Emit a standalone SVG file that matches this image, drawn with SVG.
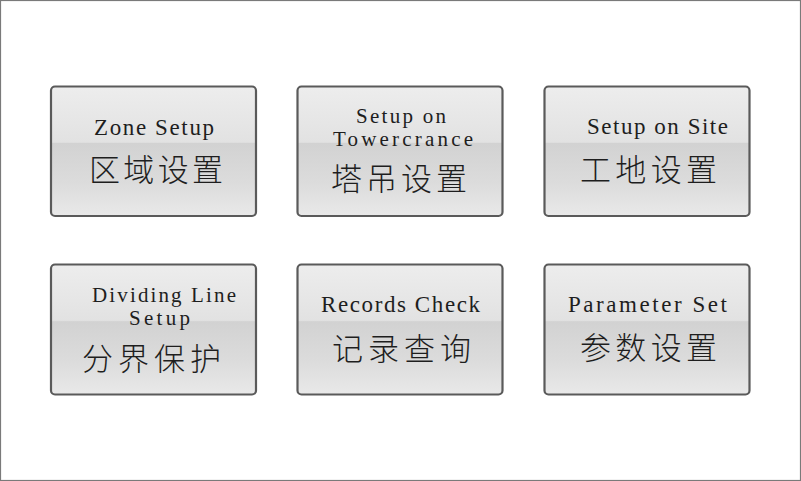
<svg xmlns="http://www.w3.org/2000/svg" width="801" height="481" viewBox="0 0 801 481">
<defs>
<linearGradient id="g" x1="0" y1="0" x2="0" y2="1">
<stop offset="0" stop-color="#ededed"/>
<stop offset="0.43" stop-color="#e2e2e2"/>
<stop offset="0.44" stop-color="#d2d2d2"/>
<stop offset="0.75" stop-color="#dcdcdc"/>
<stop offset="1" stop-color="#e9e9e9"/>
</linearGradient>
</defs>
<style>
.box{fill:url(#g);stroke:#5a5a5a;stroke-width:2.2}
.en{font-family:"Liberation Serif","DejaVu Serif",serif;font-size:23px;fill:#1e1e1e;text-anchor:start}
.en2{font-size:21px}
.zh{font-family:"Noto Sans CJK SC","Noto Sans CJK JP",sans-serif;font-size:31px;font-weight:300;fill:#1e1e1e}
</style>
<rect x="0.5" y="0.5" width="800" height="480" fill="#ffffff" stroke="#7a7a7a" stroke-width="1.2"/>
<g id="connectors"/>
<g id="zone-setup">
<rect class="box" x="51" y="86.5" width="205" height="129.5" rx="4"/>
<text class="en" x="94" y="135" textLength="120" lengthAdjust="spacing">Zone Setup</text>
<text class="zh" x="89" y="181" textLength="134" lengthAdjust="spacing">区域设置</text>
</g>
<g id="towercrane-setup">
<rect class="box" x="297.5" y="86.5" width="205" height="129.5" rx="4"/>
<text class="en en2" x="356" y="123" textLength="90" lengthAdjust="spacing">Setup on</text>
<text class="en en2" x="333" y="146" textLength="140" lengthAdjust="spacing">Towercrance</text>
<text class="zh" x="331" y="190" textLength="136" lengthAdjust="spacing">塔吊设置</text>
</g>
<g id="site-setup">
<rect class="box" x="544.5" y="86.5" width="205" height="129.5" rx="4"/>
<text class="en" x="587" y="134" textLength="141" lengthAdjust="spacing">Setup on Site</text>
<text class="zh" x="580" y="181" textLength="137" lengthAdjust="spacing">工地设置</text>
</g>
<g id="dividing-line-setup">
<rect class="box" x="51" y="264.5" width="205" height="130" rx="4"/>
<text class="en en2" x="92" y="302" textLength="144" lengthAdjust="spacing">Dividing Line</text>
<text class="en en2" x="129" y="325" textLength="61" lengthAdjust="spacing">Setup</text>
<text class="zh" x="82" y="370" textLength="139" lengthAdjust="spacing">分界保护</text>
</g>
<g id="records-check">
<rect class="box" x="297.5" y="264.5" width="205" height="130" rx="4"/>
<text class="en" x="321" y="312" textLength="159" lengthAdjust="spacing">Records Check</text>
<text class="zh" x="332" y="360" textLength="139" lengthAdjust="spacing">记录查询</text>
</g>
<g id="parameter-set">
<rect class="box" x="544.5" y="264.5" width="205" height="130" rx="4"/>
<text class="en" x="568" y="312" textLength="159" lengthAdjust="spacing">Parameter  Set</text>
<text class="zh" x="580" y="359" textLength="137" lengthAdjust="spacing">参数设置</text>
</g>
</svg>
